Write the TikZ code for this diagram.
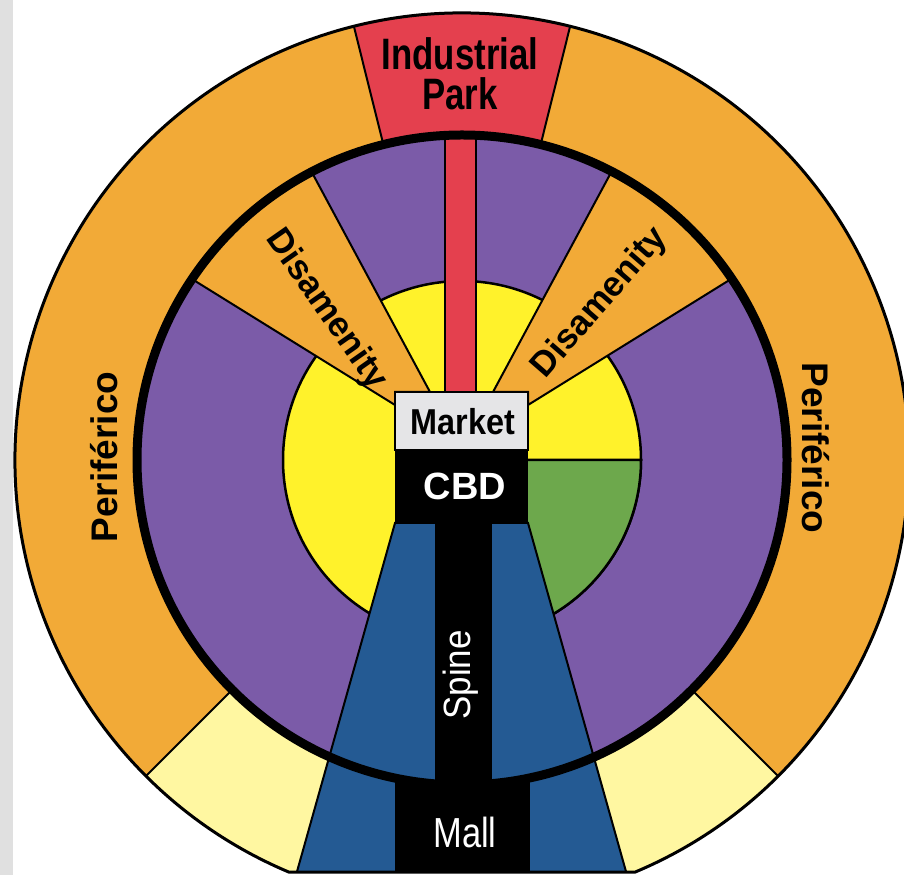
\documentclass[tikz,border=0pt]{standalone}
\usepackage{fontspec}
\setmainfont{Liberation Sans}
\usetikzlibrary{calc}
\definecolor{orng}{HTML}{F2AA37}
\definecolor{indred}{HTML}{E4404E}
\definecolor{purp}{HTML}{7B5BA8}
\definecolor{yel}{HTML}{FFF22B}
\definecolor{grn}{HTML}{6DA84C}
\definecolor{blu}{HTML}{245A93}
\definecolor{paleyel}{HTML}{FFF7A1}
\definecolor{mktgray}{HTML}{E5E5E7}
\definecolor{grayside}{HTML}{E0E0E0}
\begin{document}
\begin{tikzpicture}[x=1pt,y=1pt,
  thinline/.style={draw=black,line width=2},
  lbl/.style={inner sep=0,outer sep=0}]
\useasboundingbox (0,0) rectangle (904,875);
\fill[white] (0,0) rectangle (904,875);
\fill[grayside] (0,0) rectangle (13,875);
\coordinate (C) at (462,415);
% outer ring
\begin{scope}
\clip (C) ++(-67.2:447) arc[start angle=-67.2,end angle=247.2,radius=447] -- cycle;
\fill[orng] (0,0) rectangle (904,875);
\filldraw[fill=indred,thinline] (C) -- ++(76:460) arc[start angle=76,end angle=104,radius=460] -- cycle;
\filldraw[fill=paleyel,thinline] (C) -- ++(225:460) arc[start angle=225,end angle=315,radius=460] -- cycle;
\filldraw[fill=blu,thinline] (395,352) -- (528,352) -- (634,-25) -- (289,-25) -- cycle;
\fill[black] (395,-30) rectangle (530,110);
\end{scope}
% middle disc
\fill[purp] (C) circle[radius=325];
\filldraw[fill=yel,draw=black,line width=2.5] (C) circle[radius=179];
\filldraw[fill=grn,draw=black,line width=2.5] (C) -- ++(0:179) arc[start angle=0,end angle=-90,radius=179] -- cycle;
\begin{scope}
\clip (C) circle[radius=325];
\filldraw[fill=orng,thinline] (179,604) -- (395,470) -- (395,483) -- (430,483) -- (302,721) -- cycle;
\filldraw[fill=orng,thinline] (744,604) -- (528,470) -- (528,483) -- (493,483) -- (621,721) -- cycle;
\filldraw[fill=blu,thinline] (395,352) -- (528,352) -- (634,-25) -- (289,-25) -- cycle;
\end{scope}
% spine and industrial connector
\fill[black] (435,85) rectangle (492,352);
\filldraw[fill=indred,draw=black,line width=1.5] (445,483) rectangle (476,742);
\draw[line width=9] (C) circle[radius=325];
% market and CBD
\filldraw[fill=mktgray,draw=black,line width=2] (395,425) rectangle (528,483);
\fill[black] (395,352) rectangle (528,425);
% outer outline
\draw[line width=3] (C) ++(-67.2:447) arc[start angle=-67.2,end angle=247.2,radius=447] -- cycle;
% labels
\node[lbl,anchor=base] (ind) at (460,805) {\fontsize{44}{44}\selectfont\bfseries\scalebox{0.79}[1]{Industrial}};
\node[lbl,anchor=base] (park) at (460,765) {\fontsize{44}{44}\selectfont\bfseries\scalebox{0.79}[1]{Park}};
\node[lbl,anchor=base] (mkt) at (463,440) {\fontsize{36}{36}\selectfont\bfseries\scalebox{0.9}[1]{Market}};
\node[lbl,anchor=base,text=white] (cbd) at (465,375) {\fontsize{38}{38}\selectfont\bfseries CBD};
\node[lbl,anchor=base,text=white] (mall) at (465,28) {\fontsize{42}{42}\selectfont\scalebox{0.82}[1]{Mall}};
\node[lbl,text=white,rotate=90] (spine) at (461,200) {\fontsize{38}{38}\selectfont\scalebox{0.92}[1]{Spine}};
\node[lbl,rotate=90] (perL) at (104,418) {\fontsize{37}{37}\selectfont\bfseries Periférico};
\node[lbl,rotate=-90] (perR) at (816,427) {\fontsize{37}{37}\selectfont\bfseries Periférico};
\node[lbl,rotate=-55] (disL) at (326,565) {\fontsize{35}{35}\selectfont\bfseries Disamenity};
\node[lbl,rotate=49] (disR) at (600,572) {\fontsize{35}{35}\selectfont\bfseries Disamenity};
\end{tikzpicture}
\end{document}
